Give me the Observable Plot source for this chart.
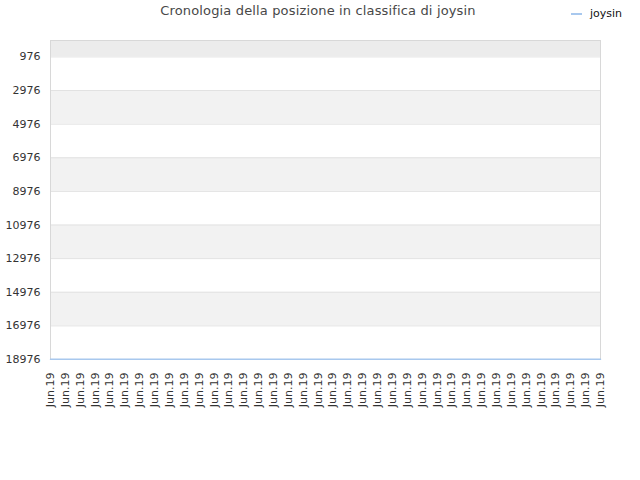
<!DOCTYPE html>
<html>
<head>
<meta charset="utf-8">
<script src="https://cdn.jsdelivr.net/npm/d3@7"></script>
<script src="https://cdn.jsdelivr.net/npm/@observablehq/plot@0.6"></script>
<style>
  html, body { margin: 0; padding: 0; background: #fff; }
  #wrap { position: relative; width: 640px; height: 480px; font-family: "DejaVu Sans", sans-serif; }
  #title { position: absolute; top: 3px; left: 0; width: 636px; text-align: center; font-size: 13px; letter-spacing: 0.15px; color: #484848; }
  #legend { position: absolute; top: 7px; left: 571px; font-size: 11px; color: #111; display: flex; align-items: center; }
  #legend .sw { display: inline-block; width: 11px; height: 2px; background: #a8c8ee; margin-right: 8px; }
  #chart { position: absolute; top: 32px; left: 0; }
</style>
</head>
<body>
<div id="wrap">
  <div id="title">Cronologia della posizione in classifica di joysin</div>
  <div id="legend"><span class="sw"></span><span>joysin</span></div>
  <div id="chart"></div>
</div>
<script>
const seriesName = "joysin";
const xLabels = [
  "Jun.19","Jun.19","Jun.19","Jun.19","Jun.19","Jun.19","Jun.19","Jun.19","Jun.19","Jun.19",
  "Jun.19","Jun.19","Jun.19","Jun.19","Jun.19","Jun.19","Jun.19","Jun.19","Jun.19","Jun.19",
  "Jun.19","Jun.19","Jun.19","Jun.19","Jun.19","Jun.19","Jun.19","Jun.19","Jun.19","Jun.19",
  "Jun.19","Jun.19","Jun.19","Jun.19","Jun.19","Jun.19","Jun.19","Jun.19"
];
const ranks = [
  18960,18960,18960,18960,18960,18960,18960,18960,18960,18960,
  18960,18960,18960,18960,18960,18960,18960,18960,18960,18960,
  18960,18960,18960,18960,18960,18960,18960,18960,18960,18960,
  18960,18960,18960,18960,18960,18960,18960,18960
];
const yTicks = [976, 2976, 4976, 6976, 8976, 10976, 12976, 14976, 16976, 18976];
const yTop = 0;

const idx = xLabels.map((_, i) => i);
const data = idx.map(i => ({i, rank: ranks[i]}));
const edges = [yTop, ...yTicks];
const bands = edges.slice(0, -1).map((lo, k) => ({lo, hi: edges[k + 1], k}));

const chart = Plot.plot({
  width: 640,
  height: 448,
  marginTop: 8,
  marginBottom: 121,
  marginLeft: 50,
  marginRight: 40,
  style: {fontFamily: "DejaVu Sans, sans-serif", fontSize: "11px", color: "#333", background: "#fff"},
  x: {type: "point", domain: idx, range: [50, 600], padding: 0},
  y: {domain: [yTicks[yTicks.length - 1], yTop]},
  marks: [
    Plot.rect(bands, {y1: "lo", y2: "hi", fill: d => d.k === 0 ? "#ececec" : (d.k % 2 === 0 ? "#f2f2f2" : "#ffffff")}),
    Plot.ruleY(yTicks, {stroke: "#e2e2e2", strokeWidth: 1}),
    Plot.frame({stroke: "#d8d8d8"}),
    Plot.line(data, {x: "i", y: "rank", stroke: "#a8c8ee", strokeWidth: 1.5}),
    Plot.axisY(yTicks, {tickSize: 0, tickPadding: 10, tickFormat: d => String(d), label: null, fill: "#333"}),
    Plot.axisX(idx, {tickSize: 0, tickPadding: 13, tickRotate: -90, tickFormat: i => xLabels[i], label: null, fill: "#333"})
  ]
});
document.getElementById("chart").appendChild(chart);
</script>
</body>
</html>
